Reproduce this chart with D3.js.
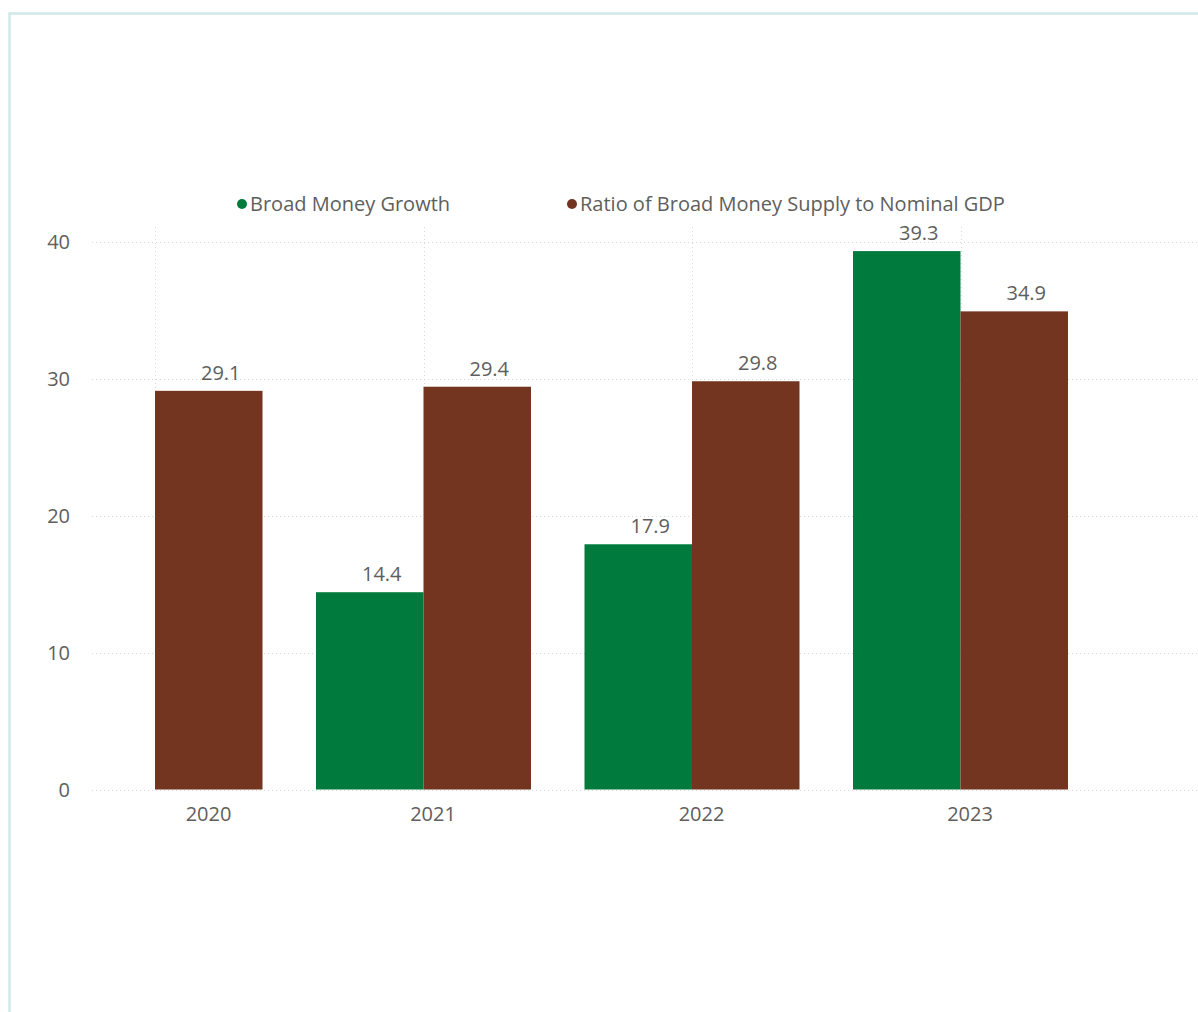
<!DOCTYPE html>
<html>
<head>
<meta charset="utf-8">
<script src="https://cdn.jsdelivr.net/npm/d3@7"></script>
<style>
  html, body { margin: 0; padding: 0; background: #fff; }
  svg { display: block; }
  text { font-family: "Open Sans", "Noto Sans", sans-serif; fill: #605E5C; }
</style>
</head>
<body>
<svg id="chart" width="1198" height="1012"></svg>
<script>
// Years shown on the category axis
const categories = ["2020", "2021", "2022", "2023"];
// Series names (legend order)
const seriesNames = ["Broad Money Growth", "Ratio of Broad Money Supply to Nominal GDP"];
// Broad money growth, % (no value reported for 2020)
const broadMoneyGrowth = [null, 14.4, 17.9, 39.3];
// Broad money supply as a share of nominal GDP, %
const moneyToGdp = [29.1, 29.4, 29.8, 34.9];
// Value axis ticks
const yTicks = [0, 10, 20, 30, 40];

const colors = ["#007A3D", "#733520"];
const seriesValues = [broadMoneyGrowth, moneyToGdp];

const svg = d3.select("#chart");
const W = 1198, H = 1012;
const fontSize = 20;

// Card outline
svg.append("rect")
  .attr("x", 9.5).attr("y", 13.5)
  .attr("width", W + 20).attr("height", H + 20)
  .attr("fill", "#fff")
  .attr("stroke", "#CFE9E9").attr("stroke-width", 2.5);

const plotLeft = 92, plotRight = W;
const y = d3.scaleLinear().domain([0, 40]).range([789.5, 241.5]);
const x0 = d3.scalePoint().domain(categories).range([155, 960.5]);
const x1 = d3.scaleBand().domain(seriesNames).range([-107.5, 107.5]);

// Horizontal gridlines
const grid = svg.append("g").attr("class", "grid");
grid.selectAll("line.h").data(yTicks).join("line")
  .attr("class", "h")
  .attr("x1", plotLeft).attr("x2", plotRight)
  .attr("y1", d => Math.round(y(d)) + 0.5).attr("y2", d => Math.round(y(d)) + 0.5)
  .attr("stroke", "#D6D6D6").attr("stroke-width", 1)
  .attr("stroke-dasharray", "1,3");

// Vertical gridlines at each year
grid.selectAll("line.v").data(categories).join("line")
  .attr("class", "v")
  .attr("x1", d => Math.round(x0(d)) + 0.5).attr("x2", d => Math.round(x0(d)) + 0.5)
  .attr("y1", 227).attr("y2", y(0))
  .attr("stroke", "#D6D6D6").attr("stroke-width", 1)
  .attr("stroke-dasharray", "1,3");

// Value axis labels
svg.append("g").selectAll("text").data(yTicks).join("text")
  .attr("x", 70).attr("y", d => y(d))
  .attr("dy", "0.35em")
  .attr("text-anchor", "end")
  .attr("font-size", fontSize)
  .text(d => d);

// Bars
const rows = [];
categories.forEach((c, i) => {
  seriesNames.forEach((s, j) => {
    const v = seriesValues[j][i];
    if (v != null) rows.push({ cat: c, series: s, value: v, color: colors[j] });
  });
});

svg.append("g").selectAll("rect").data(rows).join("rect")
  .attr("x", d => x0(d.cat) + x1(d.series))
  .attr("width", x1.bandwidth())
  .attr("y", d => y(d.value))
  .attr("height", d => y(0) - y(d.value))
  .attr("fill", d => d.color);

// Data labels, set slightly right of each bar's centre
svg.append("g").selectAll("text").data(rows).join("text")
  .attr("x", d => x0(d.cat) + x1(d.series) + x1.bandwidth() / 2 + 12)
  .attr("y", d => y(d.value) - 11)
  .attr("text-anchor", "middle")
  .attr("font-size", fontSize)
  .text(d => d.value.toFixed(1));

// Category axis labels: centred under the group, kept clear of the left edge
svg.append("g").selectAll("text").data(categories).join("text")
  .attr("x", d => Math.max(x0(d) + 9.5, 208.5))
  .attr("y", 821)
  .attr("text-anchor", "middle")
  .attr("font-size", fontSize)
  .text(d => d);

// Legend
const legendX = [242, 572];
const legend = svg.append("g").selectAll("g").data(seriesNames).join("g")
  .attr("transform", (d, i) => `translate(${legendX[i]},204)`);
legend.append("circle").attr("r", 5).attr("fill", (d, i) => colors[i]);
legend.append("text")
  .attr("x", 8).attr("y", 7)
  .attr("font-size", fontSize)
  .text(d => d);
</script>
</body>
</html>
